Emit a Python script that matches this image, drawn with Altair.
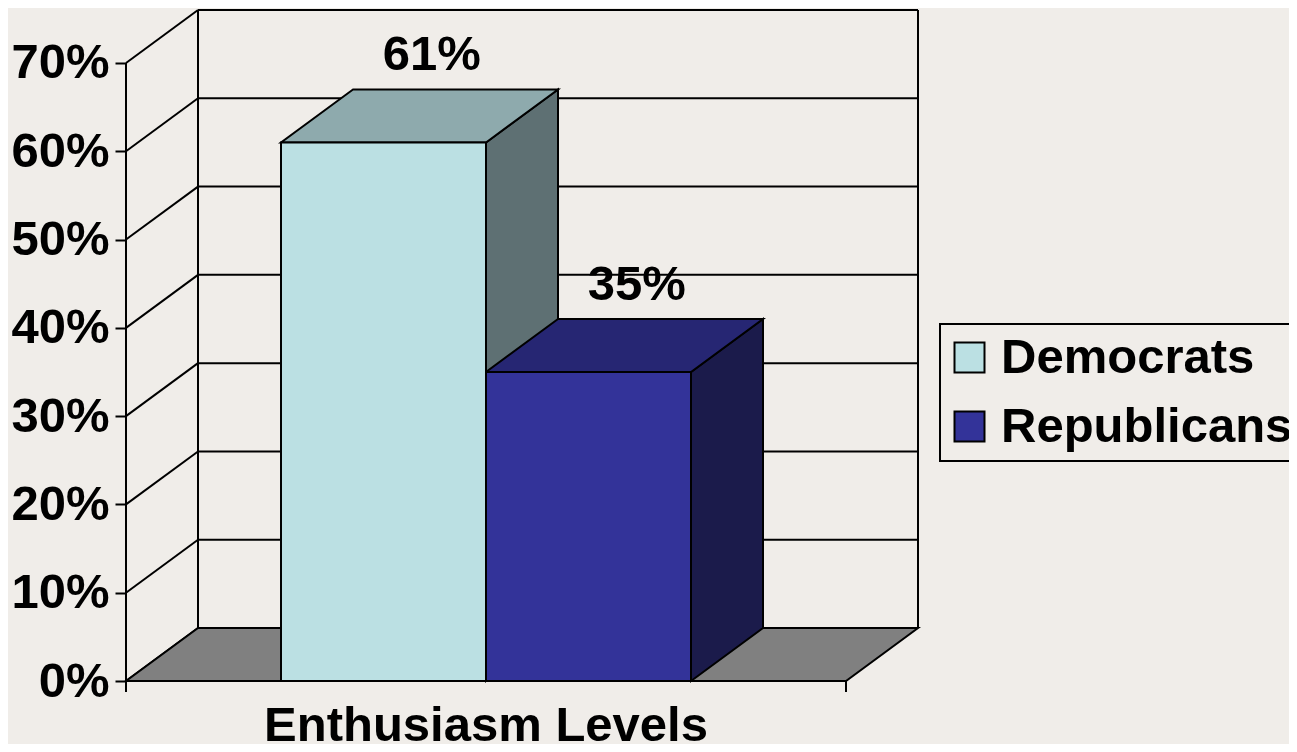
import altair as alt
import pandas as pd

# ---- data ----
SERIES = ["Democrats", "Republicans"]
VALUES = [61, 35]
LABELS = ["61%", "35%"]
FRONT_COLORS = ["#bbe0e3", "#333399"]
TOP_COLORS = ["#8eaaad", "#262673"]
SIDE_COLORS = ["#5e7073", "#1b1b4b"]
Y_TICKS = [0, 10, 20, 30, 40, 50, 60, 70]
CATEGORY = "Enthusiasm Levels"

# ---- layout / geometry constants ----
AXIS_LEN = 720.0      # front category axis length (x units)
DX = 72.0             # depth offset in x units
DY = 6.0              # depth offset in % units
BAR_W = 205.0
GROUP_START = 155.0
Y_MAX = 76.0
X_MAX = AXIS_LEN + DX
PLOT_W = 792
PLOT_H = 671
FONT = "Liberation Sans"
BG = "#f0ede9"
LINE_W = 2

xs = alt.Scale(domain=[0, X_MAX], nice=False, zero=False)
ys = alt.Scale(domain=[0, Y_MAX], nice=False, zero=False)
yaxis = alt.Axis(values=Y_TICKS, labelExpr="datum.value + '%'", title=None,
                 domain=False, grid=False, ticks=True, tickSize=11, tickWidth=2,
                 tickColor="black", labelFont=FONT, labelFontSize=49,
                 labelFontWeight="bold", labelColor="black", labelPadding=6)


def X(f):
    return alt.X(f"{f}:Q", scale=xs, axis=None, stack=None)


def Y(f):
    return alt.Y(f"{f}:Q", scale=ys, axis=yaxis, stack=None)


# back wall, side wall and gridlines
back = []
for t in Y_TICKS:
    back.append({"x": DX, "y": t + DY, "x2": X_MAX, "y2": t + DY})
    back.append({"x": 0, "y": t, "x2": DX, "y2": t + DY})
back.append({"x": DX, "y": DY, "x2": DX, "y2": Y_TICKS[-1] + DY})
back.append({"x": X_MAX, "y": DY, "x2": X_MAX, "y2": Y_TICKS[-1] + DY})
back_df = pd.DataFrame(back)

rule_enc = dict(x=X("x"), y=Y("y"), x2=alt.X2("x2:Q"), y2=alt.Y2("y2:Q"))
back_layer = alt.Chart(back_df).mark_rule(color="black", strokeWidth=LINE_W).encode(**rule_enc)

floor_df = pd.DataFrame([
    {"y": 0, "x": 0, "x2": AXIS_LEN},
    {"y": DY, "x": DX, "x2": X_MAX},
])
floor_layer = alt.Chart(floor_df).mark_area(
    orient="horizontal", fill="#808080", stroke="black", strokeWidth=LINE_W, opacity=1
).encode(y=Y("y"), x=X("x"), x2=alt.X2("x2:Q"))

side_layers, top_layers, fronts, labels = [], [], [], []
for i, (s, v) in enumerate(zip(SERIES, VALUES)):
    x0 = GROUP_START + i * BAR_W
    x1 = x0 + BAR_W
    side_df = pd.DataFrame([
        {"x": x1, "y": 0, "y2": v},
        {"x": x1 + DX, "y": DY, "y2": v + DY},
    ])
    side_layers.append(alt.Chart(side_df).mark_area(
        orient="vertical", fill=SIDE_COLORS[i], stroke="black", strokeWidth=LINE_W, opacity=1
    ).encode(x=X("x"), y=Y("y"), y2=alt.Y2("y2:Q")))
    top_df = pd.DataFrame([
        {"y": v, "x": x0, "x2": x1},
        {"y": v + DY, "x": x0 + DX, "x2": x1 + DX},
    ])
    top_layers.append(alt.Chart(top_df).mark_area(
        orient="horizontal", fill=TOP_COLORS[i], stroke="black", strokeWidth=LINE_W, opacity=1
    ).encode(y=Y("y"), x=X("x"), x2=alt.X2("x2:Q")))
    fronts.append({"series": s, "x0": x0, "x1": x1, "v": v, "base": 0})
    labels.append({"lx": (x0 + x1) / 2 + DX * 0.67, "ly": v + DY + 2.2, "label": LABELS[i]})

front_layer = alt.Chart(pd.DataFrame(fronts)).mark_rect(
    stroke="black", strokeWidth=LINE_W, opacity=1
).encode(
    x=X("x0"), x2=alt.X2("x1:Q"), y=Y("v"), y2=alt.Y2("base:Q"),
    color=alt.Color("series:N", scale=alt.Scale(domain=SERIES, range=FRONT_COLORS),
                    legend=alt.Legend(title=None, orient="none", legendX=814, legendY=314,
                                      strokeColor="black", padding=9,
                                      symbolType="square", symbolSize=900,
                                      symbolOffset=-4,
                                      symbolStrokeColor="black", symbolStrokeWidth=2,
                                      labelFont=FONT, labelFontSize=49,
                                      labelFontWeight="bold", labelColor="black",
                                      labelOffset=7, labelLimit=500, rowPadding=19)),
)

# front axes
axis_df = pd.DataFrame([
    {"x": 0, "y": 0, "x2": 0, "y2": Y_TICKS[-1]},
    {"x": 0, "y": 0, "x2": AXIS_LEN, "y2": 0},
    {"x": 0, "y": 0, "x2": 0, "y2": -1.25},
    {"x": AXIS_LEN, "y": 0, "x2": AXIS_LEN, "y2": -1.25},
])
axis_layer = alt.Chart(axis_df).mark_rule(color="black", strokeWidth=LINE_W).encode(**rule_enc)

label_layer = alt.Chart(pd.DataFrame(labels)).mark_text(
    font=FONT, fontSize=49, fontWeight="bold", color="black", align="center", baseline="alphabetic"
).encode(x=X("lx"), y=Y("ly"), text="label:N")

title_layer = alt.Chart(pd.DataFrame([{"x": AXIS_LEN / 2, "y": -6.8, "t": CATEGORY}])).mark_text(
    font=FONT, fontSize=49, fontWeight="bold", color="black", align="center", baseline="alphabetic"
).encode(x=X("x"), y=Y("y"), text="t:N")

chart = alt.layer(
    back_layer, floor_layer, *side_layers, *top_layers, front_layer, axis_layer, label_layer, title_layer
).properties(
    width=PLOT_W, height=PLOT_H,
    autosize=alt.AutoSizeParams(type="none"),
    padding={"left": 118, "top": 2, "right": 371, "bottom": 63},
    background=BG,
).configure_view(stroke=None).configure_legend(strokeWidth=2)

chart.save("out.html", embed_options={"renderer": "svg", "actions": False})
